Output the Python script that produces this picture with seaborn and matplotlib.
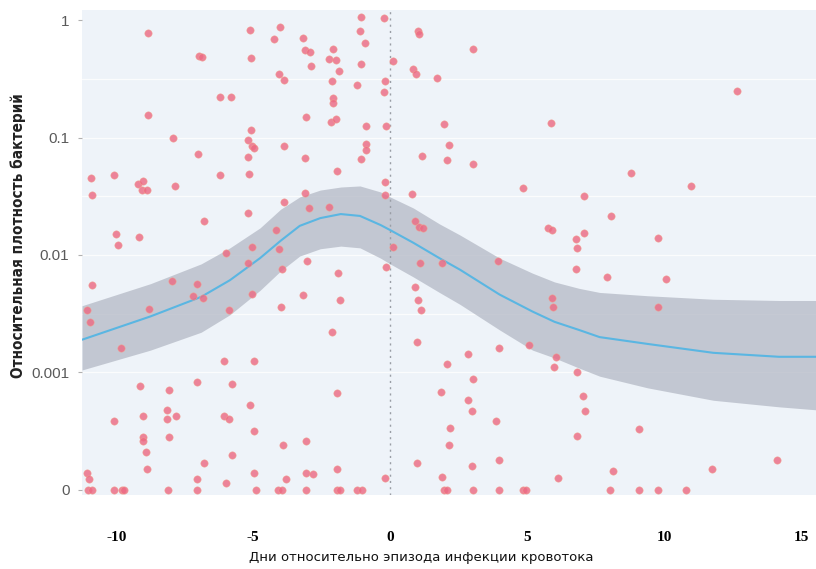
import numpy as np
import pandas as pd
import matplotlib
matplotlib.use("Agg")
import matplotlib.pyplot as plt
import seaborn as sns

# Days relative to the bloodstream infection episode and relative bacterial density
# (0 = not detected; drawn on the bottom row labelled "0")
days = [
    -8.83, -5.11, -4.01, -4.23, -6.97, -6.86, -5.07, -4.05, -3.87, -6.20,
    -5.80, -8.83, -5.07, -5.18, -5.04, -4.96, -7.92, -3.87, -7.01, -5.18,
    -10.91, -10.07, -6.20, -5.15, -10.88, -9.20, -9.01, -9.05, -8.87, -7.85,
    -3.87, -5.18, -6.79, -10.00, -9.93, -9.16, -4.16, -5.99, -5.04, -4.05,
    -5.18, -3.94, -7.96,
    -10.88, -7.04, -7.19, -6.82, -5.04, -11.06, -10.95, -8.80, -5.88, -3.98,
    -9.82, -6.06, -4.96, -9.12, -8.07, -7.04, -5.77, -5.11, -10.07, -9.01,
    -8.14, -8.14, -7.81, -6.06, -5.88, -4.96, -9.01, -9.01, -8.91, -8.07,
    -3.91, -5.77, -6.79, -8.87, -11.06, -10.99, -11.02, -10.88, -10.07, -9.78,
    -9.71, -8.10, -7.04, -7.04, -5.99, -4.96, -4.89, -4.09, -3.94, -3.80,
    -3.18, -3.10, -2.92, -2.08, -1.06, -0.22, -1.09, -0.91, 1.02, 1.06,
    -2.23, -1.97, -2.88, -1.86, -1.06, 0.11, 0.84, 0.95, 1.72, -2.12,
    -1.20, -0.18, -0.22, -2.08, -2.08, -3.07, -2.15, -1.97, -0.88, -0.15,
    3.03, 1.97, 5.88,
    -3.10, -0.88, -0.88, -1.06, 1.17, -1.93, -0.18, 0.80, -0.18, -3.10,
    -2.96, -2.23, 0.91, 1.06, 1.20, 0.11, -3.03, -0.15, 1.09, -1.90,
    2.15, 2.08, 3.03, 4.85, 7.08, 5.77, 5.91, 7.08, 6.79, 6.82,
    1.90, 3.94, 6.79,
    -3.18, -1.82, 0.91, 1.02, 1.13, -2.12, 0.99, 5.91, 5.95, 5.07,
    3.98, 2.85, 2.08, 6.06, 5.99, 6.82, 3.03, -1.93, 1.86, 2.85,
    2.99, 3.87, 7.04, 7.12, 2.19, 6.82, -3.07, 2.15, 0.99, 2.99,
    3.98, -3.07, -2.81, -1.93, -0.18, 1.90, 6.13,
    -3.07, -1.93, -1.82, -1.20, -1.02, 1.97, 2.08, 3.03, 3.98, 4.85, 4.96,
    12.66, 8.80, 10.99, 8.07, 9.78, 7.92, 10.07, 9.78, 9.09, 14.12,
    8.14, 11.75, 8.03, 9.09, 9.78, 10.80,
]
density = [
    0.77, 0.82, 0.87, 0.69, 0.49, 0.48, 0.475, 0.35, 0.31, 0.22,
    0.22, 0.155, 0.116, 0.095, 0.085, 0.081, 0.099, 0.085, 0.072, 0.068,
    0.045, 0.048, 0.048, 0.049, 0.0324, 0.040, 0.043, 0.0357, 0.0357, 0.039,
    0.028, 0.0228, 0.0195, 0.0151, 0.0122, 0.0142, 0.0163, 0.0104, 0.0117, 0.0113,
    0.0086, 0.0076, 0.0060,
    0.0056, 0.0057, 0.0045, 0.0043, 0.0047, 0.0034, 0.0027, 0.0035, 0.0034, 0.0036,
    0.0016, 0.00125, 0.00125, 0.00077, 0.00071, 0.00083, 0.00080, 0.00053, 0.00039, 0.00043,
    0.00048, 0.00040, 0.00043, 0.00043, 0.00040, 0.00032, 0.00028, 0.00026, 0.00021, 0.00028,
    0.00024, 0.00020, 0.00017, 0.00015, 0.00014, 0.000124, 0.0, 0.0, 0.0, 0.0,
    0.0, 0.0, 0.000124, 0.0, 0.000115, 0.00014, 0.0, 0.0, 0.0, 0.000124,
    0.70, 0.56, 0.53, 0.57, 1.06, 1.04, 0.81, 0.64, 0.81, 0.76,
    0.47, 0.457, 0.41, 0.37, 0.42, 0.448, 0.38, 0.35, 0.32, 0.30,
    0.28, 0.30, 0.244, 0.217, 0.197, 0.149, 0.135, 0.144, 0.125, 0.125,
    0.57, 0.130, 0.133,
    0.067, 0.088, 0.078, 0.066, 0.070, 0.052, 0.042, 0.033, 0.0324, 0.0337,
    0.0251, 0.0256, 0.0195, 0.0173, 0.0170, 0.0117, 0.0089, 0.0079, 0.0086, 0.0070,
    0.086, 0.064, 0.059, 0.037, 0.0318, 0.0170, 0.0163, 0.0154, 0.0137, 0.0115,
    0.0086, 0.0089, 0.0076,
    0.0046, 0.0041, 0.0053, 0.0041, 0.0034, 0.0022, 0.0018, 0.0043, 0.0036, 0.0017,
    0.0016, 0.00144, 0.00118, 0.00136, 0.00111, 0.00101, 0.00088, 0.00067, 0.00068, 0.00058,
    0.00047, 0.00039, 0.00063, 0.00047, 0.00034, 0.00029, 0.00026, 0.00024, 0.00017, 0.00016,
    0.00018, 0.00014, 0.000137, 0.00015, 0.000127, 0.000129, 0.000127,
    0.0, 0.0, 0.0, 0.0, 0.0, 0.0, 0.0, 0.0, 0.0, 0.0, 0.0,
    0.25, 0.050, 0.0387, 0.0215, 0.0140, 0.0065, 0.0063, 0.0036, 0.00033, 0.00018,
    0.000145, 0.00015, 0.0, 0.0, 0.0, 0.0,
]

# Smoothed trend with its confidence band
fit_day = [-11.25, -8.75, -6.9, -5.85, -4.75, -4.0, -3.3, -2.55, -1.8, -1.1, -0.35, 0.0,
           0.85, 1.8, 2.55, 4.0, 5.2, 6.0, 6.9, 7.65, 9.4, 11.8, 14.2, 15.6]
fit_mid = [0.0019, 0.0030, 0.0044, 0.0061, 0.0094, 0.0132, 0.0177, 0.0206, 0.0223, 0.0215, 0.0180, 0.0163,
           0.0127, 0.0094, 0.0075, 0.0046, 0.0033, 0.0027, 0.0023, 0.0020, 0.00175, 0.00147, 0.00136, 0.00136]
fit_lo = [0.00105, 0.00155, 0.0022, 0.0031, 0.0050, 0.0073, 0.0098, 0.0113, 0.0119, 0.0115, 0.0094, 0.0084,
          0.0065, 0.0048, 0.0038, 0.0023, 0.00155, 0.00133, 0.00109, 0.00093, 0.00074, 0.00058, 0.00051, 0.00048]
fit_hi = [0.0037, 0.0057, 0.0084, 0.0115, 0.0170, 0.0245, 0.0312, 0.0357, 0.0379, 0.0387, 0.0344, 0.0312,
          0.0251, 0.0184, 0.0148, 0.0094, 0.0070, 0.0059, 0.0052, 0.0048, 0.0045, 0.0042, 0.0041, 0.0041]

y_ticks = [1e-4, 1e-3, 1e-2, 1e-1, 1]
y_tick_labels = ["0", "0.001", "0.01", "0.1", "1"]
x_ticks = [-10, -5, 0, 5, 10, 15]
x_tick_labels = ["-10", "-5", "0", "5", "10", "15"]

ZERO_LEVEL = 1e-4  # where undetected samples sit on the log axis

pts = pd.DataFrame({"day": days, "density": density})
pts["shown"] = pts["density"].where(pts["density"] > 0, ZERO_LEVEL)
fit = pd.DataFrame({"day": fit_day, "mid": fit_mid, "lo": fit_lo, "hi": fit_hi})

sns.set_theme(style="white")
plt.rcParams["font.family"] = ["DejaVu Sans"]

fig = plt.figure(figsize=(8.16, 5.69), dpi=100, facecolor="white")
ax = fig.add_axes([82 / 816, 1 - 495 / 569, 1 - 82 / 816, (495 - 10) / 569])
ax.set_facecolor("#eef3f9")
ax.set_yscale("log")
ax.set_xlim(-11.25, 15.55)
ax.set_ylim(9.06e-5, 1.217)

# faint white grid lines
for v in [1e-3, 10 ** -2.5, 1e-2, 10 ** -1.5, 1e-1, 10 ** -0.5]:
    ax.axhline(v, color="white", lw=0.9, alpha=0.8, zorder=0.5)

# confidence band and trend
ax.fill_between(fit["day"], fit["lo"], fit["hi"], color="#b4b9c5", alpha=0.75,
                lw=0, zorder=1)
sns.lineplot(data=fit, x="day", y="mid", ax=ax, color="#5ab6e2", lw=1.5,
             zorder=2, legend=False)

# episode day
ax.axvline(0, color="#9a9ea6", lw=1.0, ls=(0, (1.5, 3)), zorder=1.5)

sns.scatterplot(data=pts, x="day", y="shown", ax=ax, color="#ec6a84", alpha=0.82,
                s=28, edgecolor="#f4a08c", linewidth=0.4, zorder=3, legend=False)

for sp in ax.spines.values():
    sp.set_visible(False)

ax.set_yticks(y_ticks)
ax.set_yticklabels(y_tick_labels, fontsize=11, color="#5a5a5a",
                   family=["Liberation Sans", "DejaVu Sans"])
ax.yaxis.set_minor_locator(matplotlib.ticker.NullLocator())
ax.tick_params(axis="y", which="major", length=3, width=0.8, color="#b0b0b0",
               left=True, pad=6)

ax.set_xticks(x_ticks)
ax.set_xticklabels(x_tick_labels, fontsize=11, fontweight="bold", color="black",
                   family=["Liberation Serif", "DejaVu Serif"])
ax.tick_params(axis="x", length=0, pad=26)

ax.set_xlabel("")
ax.set_ylabel("")

fig.text(421 / 816, 1 - 558 / 569, "Дни относительно эпизода инфекции кровотока",
         ha="center", va="center", fontsize=9.5, color="#111111",
         family=["DejaVu Sans"])
fig.text(18 / 816, 1 - 236 / 569, "Относительная плотность бактерий",
         rotation=90, ha="center", va="center", fontsize=11, fontweight="bold",
         color="#222222", family=["Liberation Sans Narrow", "DejaVu Sans"],
         fontstretch="condensed")

fig.savefig("out.png", dpi=100, facecolor="white")
